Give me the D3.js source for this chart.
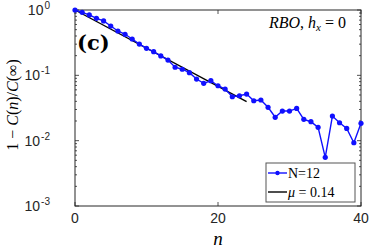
<!DOCTYPE html>
<html lang="en">
<head>
<meta charset="UTF-8">
<title>RBO decay</title>
<script src="https://d3js.org/d3.v7.min.js"></script>
<style>
    body { margin: 0; padding: 0; background: #fff; }
    svg { display: block; }
    .tick-label { font-family: "Liberation Sans", Arial, sans-serif; font-size: 14px; fill: #262626; }
    .math { font-family: "Liberation Serif", "Times New Roman", serif; }
</style>
</head>
<body>
<svg width="374" height="249"></svg>
<script>
    // data
    const nValues = d3.range(0, 41);
    const decay = [1.0, 0.92, 0.84, 0.746, 0.68, 0.569, 0.477, 0.425, 0.36, 0.301,
        0.259, 0.230, 0.198, 0.171, 0.133, 0.124, 0.110, 0.0878, 0.0754, 0.0827,
        0.0693, 0.0617, 0.0470, 0.0487, 0.0517, 0.0408, 0.0419, 0.0324, 0.0228, 0.0284,
        0.0284, 0.0312, 0.0212, 0.0195, 0.0160, 0.00555, 0.0238, 0.0188, 0.0154, 0.0093,
        0.0184];
    const fitN = [0, 24];
    const fitValues = [1.0, 0.0395];
    const xTicks = [0, 20, 40];
    const yTicks = [1e-3, 1e-2, 1e-1, 1];
    const yTickExp = ["-3", "-2", "-1", "0"];

    const svg = d3.select("svg");
    const margin = {top: 10, right: 13, bottom: 43, left: 75};
    const width = 374 - margin.left - margin.right;
    const height = 249 - margin.top - margin.bottom;
    const axisColor = "#262626";

    const x = d3.scaleLinear().domain([0, 40]).range([0, width]);
    const y = d3.scaleLog().domain([1e-3, 1]).range([height, 0]);

    const g = svg.append("g")
        .attr("transform", `translate(${margin.left},${margin.top})`);

    // minor log ticks
    const minor = [];
    for (let e = -3; e < 0; e++) {
        for (let k = 2; k <= 9; k++) minor.push(k * Math.pow(10, e));
    }

    // box
    g.append("rect")
        .attr("width", width).attr("height", height)
        .attr("fill", "none").attr("stroke", axisColor).attr("stroke-width", 1);

    // y ticks left and right
    [0, width].forEach(xx => {
        const dir = xx === 0 ? 1 : -1;
        g.selectAll(null).data(minor).enter().append("line")
            .attr("x1", xx).attr("x2", xx + dir * 2)
            .attr("y1", d => y(d)).attr("y2", d => y(d))
            .attr("stroke", axisColor).attr("stroke-width", 0.8);
        g.selectAll(null).data(yTicks).enter().append("line")
            .attr("x1", xx).attr("x2", xx + dir * 4)
            .attr("y1", d => y(d)).attr("y2", d => y(d))
            .attr("stroke", axisColor).attr("stroke-width", 0.8);
    });

    // x ticks top and bottom
    [0, height].forEach(yy => {
        const dir = yy === 0 ? 1 : -1;
        g.selectAll(null).data(xTicks).enter().append("line")
            .attr("x1", d => x(d)).attr("x2", d => x(d))
            .attr("y1", yy).attr("y2", yy + dir * 4)
            .attr("stroke", axisColor).attr("stroke-width", 0.8);
    });

    // y tick labels
    const yl = g.selectAll(".ylab").data(yTicks).enter().append("text")
        .attr("class", "tick-label")
        .attr("x", -25).attr("y", d => y(d) + 5)
        .attr("text-anchor", "end");
    yl.append("tspan").text("10");
    yl.append("tspan").attr("dx", 1).attr("dy", -6).attr("font-size", 10)
        .text((d, i) => yTickExp[i]);

    // x tick labels
    g.selectAll(".xlab").data(xTicks).enter().append("text")
        .attr("class", "tick-label")
        .attr("x", d => x(d)).attr("y", height + 17)
        .attr("text-anchor", "middle")
        .text(d => d);

    // axis titles
    g.append("text")
        .attr("class", "math")
        .attr("x", x(20)).attr("y", height + 39)
        .attr("text-anchor", "middle")
        .attr("font-size", 19).attr("font-style", "italic")
        .text("n");

    const yt = svg.append("text")
        .attr("class", "math")
        .attr("transform", `translate(18,${margin.top + height / 2 - 3}) rotate(-90)`)
        .attr("text-anchor", "middle")
        .attr("font-size", 16);
    yt.append("tspan").text("1 − ");
    yt.append("tspan").attr("font-style", "italic").text("C");
    yt.append("tspan").text("(");
    yt.append("tspan").attr("font-style", "italic").text("n");
    yt.append("tspan").text(")/");
    yt.append("tspan").attr("font-style", "italic").text("C");
    yt.append("tspan").text("(∞)");

    // fit line
    const fitPts = fitN.map((n, i) => [n, fitValues[i]]);
    g.append("path")
        .datum(fitPts)
        .attr("fill", "none").attr("stroke", "#000").attr("stroke-width", 1.4)
        .attr("d", d3.line().x(d => x(d[0])).y(d => y(d[1])));

    // data series
    const pts = nValues.map((n, i) => [n, decay[i]]);
    g.append("path")
        .datum(pts)
        .attr("fill", "none").attr("stroke", "#1010ff").attr("stroke-width", 1.4)
        .attr("d", d3.line().x(d => x(d[0])).y(d => y(d[1])));
    g.selectAll(".pt").data(pts).enter().append("circle")
        .attr("cx", d => x(d[0])).attr("cy", d => y(d[1]))
        .attr("r", 2.6).attr("fill", "#1010ff");

    // panel label
    g.append("text")
        .attr("x", 2).attr("y", 40)
        .attr("font-family", "DejaVu Serif, serif").attr("font-weight", "bold")
        .attr("font-size", 21)
        .text("(c)");

    const ann = g.append("text")
        .attr("class", "math")
        .attr("x", width - 15).attr("y", 18)
        .attr("text-anchor", "end")
        .attr("font-size", 16);
    ann.append("tspan").attr("font-style", "italic").text("RBO");
    ann.append("tspan").text(", ");
    ann.append("tspan").attr("font-style", "italic").text("h");
    ann.append("tspan").attr("font-style", "italic").attr("font-size", 11).attr("dy", 3).text("x");
    ann.append("tspan").attr("dy", -3).text(" = 0");

    // legend
    const lg = g.append("g").attr("transform", `translate(${width - 95},${height - 43})`);
    lg.append("rect")
        .attr("width", 89).attr("height", 39)
        .attr("fill", "#fff").attr("stroke", "#555").attr("stroke-width", 1);
    lg.append("line").attr("x1", 2).attr("x2", 21).attr("y1", 10).attr("y2", 10)
        .attr("stroke", "#1010ff").attr("stroke-width", 1.4);
    lg.append("circle").attr("cx", 11.5).attr("cy", 10).attr("r", 2.2).attr("fill", "#1010ff");
    lg.append("text").attr("class", "math").attr("x", 22).attr("y", 15)
        .attr("font-size", 14).text("N=12");
    lg.append("line").attr("x1", 2).attr("x2", 21).attr("y1", 29).attr("y2", 29)
        .attr("stroke", "#000").attr("stroke-width", 1.4);
    const lt = lg.append("text").attr("class", "math").attr("x", 22).attr("y", 34)
        .attr("font-size", 14);
    lt.append("tspan").attr("font-style", "italic").text("μ");
    lt.append("tspan").text(" = 0.14");
</script>
</body>
</html>
